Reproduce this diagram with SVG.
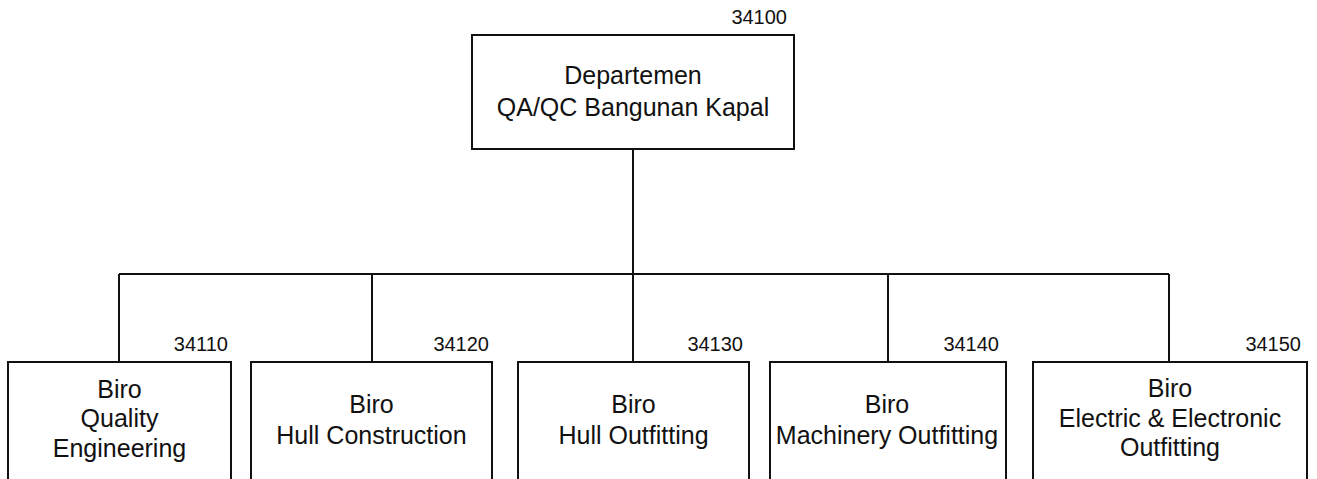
<svg xmlns="http://www.w3.org/2000/svg" width="1317" height="479" viewBox="0 0 1317 479">
<style>
.box{fill:#fff;stroke:#111;stroke-width:2}
.t{font-family:"Liberation Sans",Arial,sans-serif;font-size:25px;fill:#111;text-anchor:middle}
.n{font-family:"Liberation Sans",Arial,sans-serif;font-size:20px;fill:#111;text-anchor:end}
.c{fill:none;stroke:#111;stroke-width:2}
</style>
<rect width="1317" height="479" fill="#fff"/>
<g id="connectors">
<path class="c" d="M633 149V274M119 274H1169M119 274V362M372 274V362M633 274V362M888 274V362M1169 274V362"/>
</g>
<g id="n34100">
<rect class="box" x="472" y="35" width="322" height="114"/>
<text class="n" x="787" y="24">34100</text>
<text class="t" x="633" y="84">Departemen</text>
<text class="t" x="633" y="116">QA/QC Bangunan Kapal</text>
</g>
<g id="n34110">
<rect class="box" x="8" y="362" width="223" height="130"/>
<text class="n" x="228" y="351">34110</text>
<text class="t" x="119.5" y="398">Biro</text>
<text class="t" x="119.5" y="427">Quality</text>
<text class="t" x="119.5" y="457">Engineering</text>
</g>
<g id="n34120">
<rect class="box" x="251" y="362" width="241" height="130"/>
<text class="n" x="489" y="351">34120</text>
<text class="t" x="371.5" y="413">Biro</text>
<text class="t" x="371.5" y="444">Hull Construction</text>
</g>
<g id="n34130">
<rect class="box" x="518" y="362" width="231" height="130"/>
<text class="n" x="743" y="351">34130</text>
<text class="t" x="633.5" y="413">Biro</text>
<text class="t" x="633.5" y="444">Hull Outfitting</text>
</g>
<g id="n34140">
<rect class="box" x="770" y="362" width="236" height="130"/>
<text class="n" x="999" y="351">34140</text>
<text class="t" x="887" y="413">Biro</text>
<text class="t" x="887" y="444">Machinery Outfitting</text>
</g>
<g id="n34150">
<rect class="box" x="1033" y="362" width="274" height="130"/>
<text class="n" x="1301" y="351">34150</text>
<text class="t" x="1170" y="397">Biro</text>
<text class="t" x="1170" y="427">Electric &amp; Electronic</text>
<text class="t" x="1170" y="456">Outfitting</text>
</g>
</svg>
